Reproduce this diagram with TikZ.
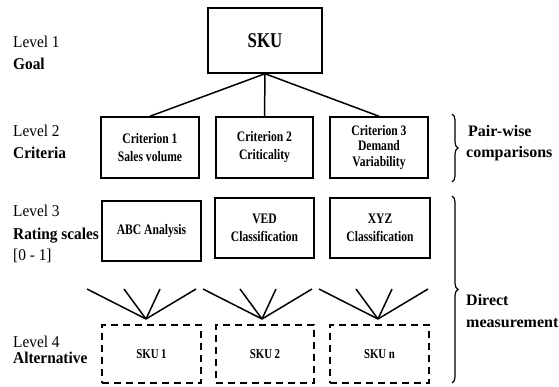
\documentclass[tikz,border=0pt]{standalone}
\usepackage{fontspec}
\setmainfont{Liberation Serif}
\newfontfamily\narrowfont{Liberation Serif}[FakeStretch=0.8]
\newfontfamily\slimfont{Liberation Serif}[FakeStretch=0.93]
\usetikzlibrary{decorations.pathreplacing}

\begin{document}
\begin{tikzpicture}[x=1pt,y=-1pt,
    box/.style={draw,line width=1.5pt,inner sep=0pt,align=center,
      font=\narrowfont\bfseries\fontsize{14.5}{15.5}\selectfont},
    altbox/.style={box,dash pattern=on 7pt off 5pt,
      font=\narrowfont\bfseries\fontsize{13.5}{14}\selectfont},
    lvl/.style={anchor=base west,inner sep=0pt,font=\slimfont\fontsize{16.5}{18}\selectfont},
    lvlname/.style={lvl,font=\slimfont\bfseries\fontsize{16.5}{18}\selectfont},
    note/.style={anchor=base west,inner sep=0pt,font=\bfseries\fontsize{16}{18}\selectfont},
    link/.style={line width=1.5pt},
    bracket/.style={decorate,decoration={brace,amplitude=6pt},line width=1.2pt}]
    \useasboundingbox (0,0) rectangle (559,387);

    % level labels
    \node[lvl] (lv1) at (13,48) {Level 1};
    \node[lvlname] (goal) at (13,70) {Goal};
    \node[lvl] (lv2) at (13,137) {Level 2};
    \node[lvlname] (crit) at (13,159) {Criteria};
    \node[lvl] (lv3) at (13,217) {Level 3};
    \node[lvlname] (rate) at (13,240) {Rating scales};
    \node[lvl] (range) at (13,261) {[0 - 1]};
    \node[lvl] (lv4) at (13,347) {Level 4};
    \node[lvlname] (alt) at (13,363) {Alternative};

    % goal and criteria
    \node[box,minimum width=114,minimum height=65,
      font=\narrowfont\bfseries\fontsize{21}{22}\selectfont] (sku) at (265,40.5) {SKU};
    \node[box,minimum width=98,minimum height=61] (c1) at (150,147.5) {Criterion 1\\[2.5pt]Sales volume};
    \node[box,minimum width=97,minimum height=61] (c2) at (264.5,147.5) {Criterion 2\\[2.5pt]Criticality};
    \node[box,minimum width=98,minimum height=61] (c3) at (379,147.5) {Criterion 3\\Demand\\Variability};

    \draw[link] (sku.south) -- (c1.north);
    \draw[link] (sku.south) -- (c2.north);
    \draw[link] (sku.south) -- (c3.north);

    % rating scales
    \node[box,minimum width=99,minimum height=60] (abc) at (151.5,231) {ABC Analysis};
    \node[box,minimum width=99,minimum height=60] (ved) at (264.5,228) {VED\\[2.5pt]Classification};
    \node[box,minimum width=100,minimum height=60] (xyz) at (380,228) {XYZ\\[2.5pt]Classification};

    % alternatives
    \node[altbox,minimum width=99,minimum height=58] (alt1) at (151.5,354) {SKU 1};
    \node[altbox,minimum width=98,minimum height=58] (alt2) at (265,354) {SKU 2};
    \node[altbox,minimum width=99,minimum height=58] (alt3) at (379.5,354) {SKU n};

    \coordinate (apex1) at (146,319);
    \coordinate (apex2) at (262,319);
    \coordinate (apex3) at (378,319);
    \foreach \ap in {1,2,3}
      \foreach \dx in {-59,-22,14,50}
        \draw[link] (apex\ap) -- ++(\dx,-30);

    % braces
    \draw[bracket] (452,114) -- (452,182);
    \draw[bracket] (452,196) -- (452,383);
    \node[note] (pw) at (468,137) {Pair-wise};
    \node[note] (pc) at (466,158) {comparisons};
    \node[note] (dm) at (466,305) {Direct};
    \node[note] (ms) at (466,327) {measurement};
  \end{tikzpicture}
\end{document}
